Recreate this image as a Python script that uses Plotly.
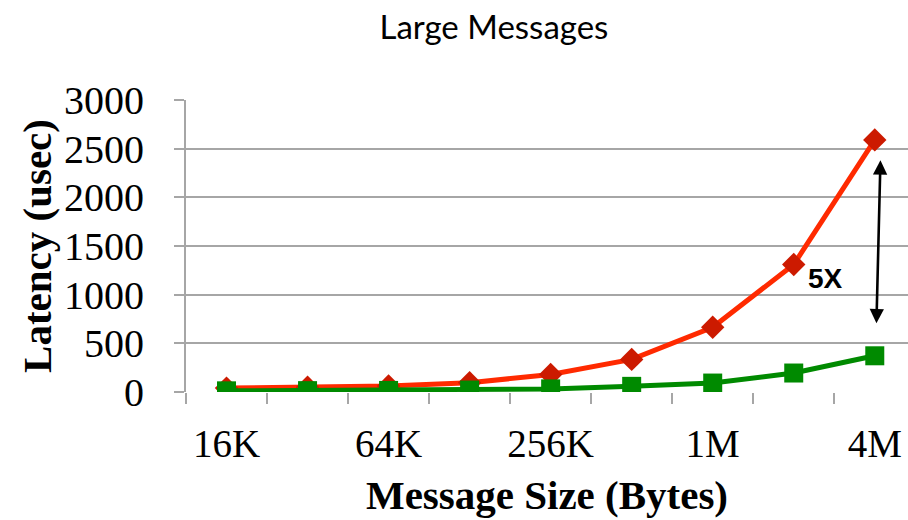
import plotly.graph_objects as go

sizes = ["16K", "32K", "64K", "128K", "256K", "512K", "1M", "2M", "4M"]
tick_text = ["16K", "", "64K", "", "256K", "", "1M", "", "4M"]
latency_red = [40, 50, 62, 95, 180, 335, 665, 1310, 2590]
latency_green = [12, 14, 16, 20, 32, 58, 92, 195, 372]

SERIF = "Liberation Serif, Times New Roman, serif"
GRID = "#a6a6a6"

fig = go.Figure()
fig.add_trace(
    go.Scatter(
        x=sizes,
        y=latency_red,
        mode="lines+markers",
        line=dict(color="#ff2a00", width=5),
        marker=dict(symbol="diamond", size=18, color="#cc1a00"),
        showlegend=False,
    )
)
fig.add_trace(
    go.Scatter(
        x=sizes,
        y=latency_green,
        mode="lines+markers",
        line=dict(color="#008a00", width=5),
        marker=dict(symbol="square", size=19, color="#008a00"),
        showlegend=False,
    )
)

# double-headed arrow between the two 4M points
fig.add_annotation(
    x=8.07, y=2380, ax=8.02, ay=690,
    xref="x", yref="y", axref="x", ayref="y",
    text="", showarrow=True,
    arrowhead=2, startarrowhead=2, arrowside="end+start",
    arrowwidth=2.6, arrowsize=1.1, startarrowsize=1.1, arrowcolor="black",
)
fig.add_annotation(
    x=7.39, y=1171, xref="x", yref="y",
    text="<b>5X</b>", showarrow=False,
    font=dict(family="Liberation Sans, Arial, sans-serif", size=28, color="black"),
)

fig.update_layout(
    width=908,
    height=520,
    plot_bgcolor="white",
    paper_bgcolor="white",
    margin=dict(l=186, r=0, t=100, b=128),
    title=dict(
        text="Large Messages",
        x=0.544, xanchor="center", y=0.947, yanchor="middle",
        font=dict(family="Lato, Open Sans, sans-serif", size=33, color="black"),
    ),
)
fig.update_xaxes(
    type="category",
    range=[-0.5, 8.41],
    tickvals=sizes,
    ticktext=tick_text,
    tickangle=0,
    tickson="boundaries",
    ticks="outside",
    ticklen=11,
    tickwidth=2,
    tickcolor=GRID,
    ticklabelstandoff=25,
    showgrid=False,
    showline=False,
    zeroline=False,
    automargin=False,
    tickfont=dict(family=SERIF, size=39, color="black"),
    title=dict(
        text="<b>Message Size (Bytes)</b>",
        font=dict(family=SERIF, size=41, color="black"),
        standoff=16,
    ),
)
fig.update_yaxes(
    range=[0, 3000],
    dtick=500,
    showgrid=True,
    gridcolor=GRID,
    gridwidth=2,
    zeroline=False,
    showline=True,
    linecolor=GRID,
    linewidth=2,
    ticks="outside",
    ticklen=10,
    tickwidth=2,
    tickcolor=GRID,
    ticklabelstandoff=22,
    automargin=False,
    tickfont=dict(family=SERIF, size=40, color="black"),
    title=dict(
        text="<b>Latency (usec)</b>",
        font=dict(family=SERIF, size=41, color="black"),
        standoff=0,
    ),
)

fig.write_html(
    "out.html",
    config={"displayModeBar": False},
    post_script="document.body.style.margin = '0';",
)
